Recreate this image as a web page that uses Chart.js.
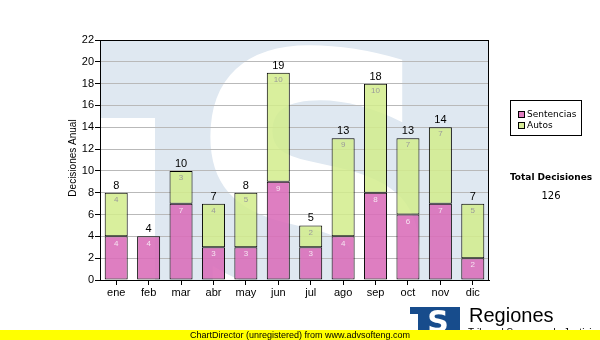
<!DOCTYPE html>
<html>
<head>
<meta charset="utf-8">
<script src="https://cdn.jsdelivr.net/npm/chart.js@4"></script>
<style>
  body { margin: 0; background: #fff; }
  #wrap { position: relative; width: 600px; height: 340px; overflow: hidden; }
  #chart { position: absolute; left: 0; top: 0; }
  .abs { position: absolute; white-space: nowrap; }
  #legend { left: 510px; top: 100px; width: 72px; height: 36px; box-sizing: border-box;
            border: 1px solid #000; background: #fff; }
  .sw { position: absolute; width: 7px; height: 7px; box-sizing: border-box; border: 1px solid #000; }
  .lt { position: absolute; font: 9px "DejaVu Sans", sans-serif; line-height: 11px; color: #000; }
  #total { left: 500px; top: 171px; width: 102px; text-align: center;
           font: bold 9px "DejaVu Sans", sans-serif; line-height: 12px; }
  #totalVal { left: 500px; top: 190px; width: 102px; text-align: center;
              font: 10px "DejaVu Sans", sans-serif; line-height: 12px; }
  #regiones { left: 469px; top: 305px; font: 20px "Liberation Sans", Arial, sans-serif; line-height: 20px; }
  #tsj { left: 468px; top: 328px; font: 10px "Liberation Sans", Arial, sans-serif; line-height: 10px; }
  #footer { left: 0; top: 330px; width: 600px; height: 10px; background: #ffff00; }
  #footer span { position: absolute; left: 190px; top: 0; font: 9px "Liberation Sans", Arial, sans-serif; line-height: 10px; }
</style>
</head>
<body>
<div id="wrap">
  <canvas id="chart" width="600" height="340"></canvas>
  <div id="legend" class="abs">
    <div class="sw" style="left:7px;top:10px;background:#df7cbf"></div>
    <div class="lt" style="left:16px;top:8px">Sentencias</div>
    <div class="sw" style="left:7px;top:21px;background:#d8ed98"></div>
    <div class="lt" style="left:16px;top:19px">Autos</div>
  </div>
  <div id="total" class="abs">Total Decisiones</div>
  <div id="totalVal" class="abs">126</div>
  <div id="regiones" class="abs">Regiones</div>
  <div id="tsj" class="abs">Tribunal Supremo de Justicia</div>
  <div id="footer" class="abs"><span>ChartDirector (unregistered) from www.advsofteng.com</span></div>
</div>
<script>
// Chart data
const months = ['ene', 'feb', 'mar', 'abr', 'may', 'jun', 'jul', 'ago', 'sep', 'oct', 'nov', 'dic'];
const sentencias = [4, 4, 7, 3, 3, 9, 3, 4, 8, 6, 7, 2];
const autos = [4, 0, 3, 4, 5, 10, 2, 9, 10, 7, 7, 5];
const yTicks = [0, 2, 4, 6, 8, 10, 12, 14, 16, 18, 20, 22];

const pink = 'rgba(218, 108, 184, 0.88)';
const green = 'rgba(210, 236, 140, 0.85)';

// Plot background with the faded "S" watermark
const backgroundPlugin = {
  id: 'background',
  beforeDraw(chart) {
    const { ctx, chartArea: a } = chart;
    ctx.save();
    ctx.fillStyle = '#fff';
    ctx.fillRect(0, 0, chart.width, chart.height);
    ctx.fillStyle = '#dfe8f1';
    ctx.fillRect(a.left, a.top, a.right - a.left, a.bottom - a.top);
    ctx.beginPath();
    ctx.rect(a.left, a.top, a.right - a.left, a.bottom - a.top);
    ctx.clip();
    ctx.fillStyle = '#fff';
    ctx.fillRect(a.left, 118, 55, a.bottom - 118);
    // big S
    ctx.font = 'bold 400px "DejaVu Sans"';
    ctx.textAlign = 'left';
    ctx.textBaseline = 'alphabetic';
    const m = ctx.measureText('S');
    const w = m.actualBoundingBoxLeft + m.actualBoundingBoxRight;
    const h = m.actualBoundingBoxAscent + m.actualBoundingBoxDescent;
    ctx.translate(207, 42);
    ctx.scale(216 / w, 310 / h);
    ctx.fillText('S', m.actualBoundingBoxLeft, m.actualBoundingBoxAscent);
    ctx.restore();
  }
};

// Value labels, frame, axis title and logo
const labelsPlugin = {
  id: 'labels',
  afterDatasetsDraw(chart) {
    const { ctx } = chart;
    const m0 = chart.getDatasetMeta(0);
    const m1 = chart.getDatasetMeta(1);
    ctx.save();
    ctx.textAlign = 'center';
    ctx.textBaseline = 'middle';
    ctx.font = '8px "Liberation Sans", Arial';
    m0.data.forEach((bar, i) => {
      if (!sentencias[i]) return;
      ctx.fillStyle = '#f6e4f1';
      ctx.fillText(sentencias[i], bar.x, bar.y + 7);
    });
    m1.data.forEach((bar, i) => {
      if (!autos[i]) return;
      ctx.fillStyle = '#9a9a9a';
      ctx.fillText(autos[i], bar.x, bar.y + 7);
    });
    ctx.font = '11px "Liberation Sans", Arial';
    ctx.fillStyle = '#000';
    m1.data.forEach((bar, i) => {
      ctx.fillText(sentencias[i] + autos[i], bar.x, bar.y - 7);
    });
    ctx.restore();
  },
  afterDraw(chart) {
    const { ctx, chartArea: a } = chart;
    ctx.save();
    ctx.strokeStyle = '#000';
    ctx.lineWidth = 1;
    ctx.strokeRect(Math.round(a.left) + 0.5, Math.round(a.top) + 0.5,
      Math.round(a.right - a.left) - 1, Math.round(a.bottom - a.top));
    // y axis title
    ctx.translate(73, (a.top + a.bottom) / 2 - 2);
    ctx.rotate(-Math.PI / 2);
    ctx.font = '10px "Liberation Sans", Arial';
    ctx.fillStyle = '#000';
    ctx.textAlign = 'center';
    ctx.textBaseline = 'middle';
    ctx.fillText('Decisiones Anual', 0, 0);
    ctx.restore();
    // footer logo
    ctx.save();
    ctx.fillStyle = '#174c8c';
    ctx.fillRect(410, 307, 50, 26);
    ctx.fillStyle = '#fff';
    ctx.fillRect(410, 314, 8, 20);
    ctx.font = 'bold 30px "DejaVu Sans"';
    ctx.textAlign = 'center';
    ctx.textBaseline = 'alphabetic';
    ctx.fillText('S', 438, 332);
    ctx.restore();
  }
};

new Chart(document.getElementById('chart'), {
  type: 'bar',
  data: {
    labels: months,
    datasets: [
      { label: 'Sentencias', data: sentencias, backgroundColor: pink, borderColor: '#000',
        borderWidth: 1, borderSkipped: false, barPercentage: 0.71, categoryPercentage: 1 },
      { label: 'Autos', data: autos, backgroundColor: green, borderColor: '#000',
        borderWidth: 1, borderSkipped: false, barPercentage: 0.71, categoryPercentage: 1 }
    ]
  },
  options: {
    responsive: false,
    animation: false,
    devicePixelRatio: 1,
    layout: { padding: { left: 0, top: 40, right: 111, bottom: 0 } },
    plugins: { legend: { display: false }, tooltip: { enabled: false } },
    scales: {
      x: {
        stacked: true,
        afterFit(scale) { scale.height = 60; },
        grid: { drawOnChartArea: false, offset: false, tickLength: 5, tickColor: '#000' },
        border: { color: '#000' },
        ticks: { color: '#000', padding: 1, font: { family: '"Liberation Sans", Arial', size: 11 } }
      },
      y: {
        stacked: true,
        min: 0,
        max: 22,
        afterFit(scale) { scale.width = 100; },
        afterBuildTicks(scale) { scale.ticks = yTicks.map(v => ({ value: v })); },
        grid: { color: '#b9b9b9', tickColor: '#000', tickLength: 5 },
        border: { color: '#000' },
        ticks: { color: '#000', padding: 1, font: { family: '"Liberation Sans", Arial', size: 11 } }
      }
    }
  },
  plugins: [backgroundPlugin, labelsPlugin]
});
</script>
</body>
</html>
